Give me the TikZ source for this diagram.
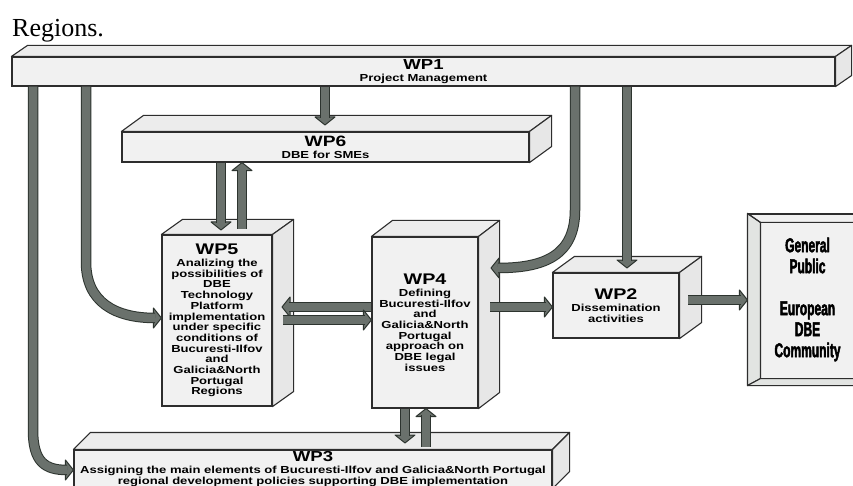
\documentclass[tikz,border=0pt]{standalone}
\usepackage{fontspec}
\setmainfont{Liberation Serif}
\newfontfamily\bsans{Liberation Sans Bold}[FakeStretch=1.28]
\newfontfamily\gpfont{Liberation Sans Bold}[FakeStretch=0.6, FakeBold=2.2]
\usetikzlibrary{calc}
\definecolor{edgec}{RGB}{45,45,45}
\definecolor{facec}{RGB}{241,241,241}
\definecolor{topc}{RGB}{236,236,236}
\definecolor{sidec}{RGB}{231,231,231}
\definecolor{bevc}{RGB}{226,228,226}
\definecolor{arrf}{RGB}{106,113,108}
\definecolor{arre}{RGB}{45,52,47}
\tikzset{
  wpbox/.style={draw=edgec, fill=facec, line width=1.1pt, inner sep=0pt, align=center,
    font=\bsans\fontsize{10.2}{10.7}\selectfont, text=black},
  face/.style={draw=edgec, line width=1.1pt, line join=round},
  shaft/.style={draw=arre, double=arrf, double distance=8.5pt, line width=1pt},
  headst/.style={fill=arrf, draw=arre, line width=1pt, line join=round},
  headD/.pic={\path[headst] (-10,-8) -- (10,-8) -- (0,0) -- cycle;},
  headU/.pic={\path[headst] (-10,8) -- (10,8) -- (0,0) -- cycle;},
  headR/.pic={\path[headst] (-8,-10) -- (-8,10) -- (0,0) -- cycle;},
  headL/.pic={\path[headst] (8,-10) -- (8,10) -- (0,0) -- cycle;}
}
\newcommand\wpdepth[3]{%
  \path[face, fill=topc] (#1.north west) -- ++(#2,#3) -- ($(#1.north east)+(#2,#3)$) -- (#1.north east) -- cycle;
  \path[face, fill=sidec] (#1.north east) -- ++(#2,#3) -- ($(#1.south east)+(#2,#3)$) -- (#1.south east) -- cycle;
}
\newcommand\hd[2]{{\fontsize{#1}{#1}\selectfont #2}}
\begin{document}
\begin{tikzpicture}[x=1pt,y=-1pt]
\useasboundingbox (0,0) rectangle (853,486);
\clip (0,0) rectangle (853,486);
\fill[white] (0,0) rectangle (853,486);

\node[anchor=base west, inner sep=0pt, font=\fontsize{26}{26}\selectfont] (reg) at (12,37) {Regions.};

% boxes
\node[wpbox, minimum width=823pt, minimum height=29pt] (wp1) at (423.5,71.5)
  {\hd{14.5}{WP1}\\[0.5pt]Project Management};
\wpdepth{wp1}{16}{-11}

\node[wpbox, minimum width=407pt, minimum height=30pt] (wp6) at (325.5,147)
  {\hd{15}{WP6}\\[1pt]DBE for SMEs};
\wpdepth{wp6}{22}{-16}

\node[wpbox, minimum width=110pt, minimum height=171pt] (wp5) at (217,320.5)
  {\hd{15.4}{WP5}\\[1.3pt]Analizing the\\possibilities of\\DBE\\Technology\\Platform\\implementation\\under specific\\conditions of\\Bucuresti-Ilfov\\and\\Galicia\&North\\Portugal\\Regions};
\wpdepth{wp5}{21}{-15}

\node[wpbox, minimum width=106pt, minimum height=171pt] (wp4) at (425,322.5)
  {\hd{15.4}{WP4}\\[1.3pt]Defining\\Bucuresti-Ilfov\\and\\Galicia\&North\\Portugal\\approach on\\DBE legal\\issues};
\wpdepth{wp4}{21}{-16}

\node[wpbox, minimum width=126pt, minimum height=65pt] (wp2) at (616,305.5)
  {\hd{15.4}{WP2}\\[1.3pt]Dissemination\\activities};
\wpdepth{wp2}{22}{-16}

\node[wpbox, minimum width=478pt, minimum height=38pt] (wp3) at (313,469)
  {\hd{14.5}{WP3}\\[1.5pt]Assigning the main elements of Bucuresti-Ilfov and Galicia\&North Portugal\\regional development policies supporting DBE implementation};
\wpdepth{wp3}{17}{-17}

\node[draw=edgec, fill=facec, line width=1.1pt, minimum width=119pt, minimum height=171pt,
  inner sep=0pt, align=center, font=\gpfont\fontsize{20}{21}\selectfont] (gp) at (807.5,299.5)
  {General\\Public\\[21pt]European\\DBE\\Community};
\path[face, fill=bevc] (gp.north west) -- ($(gp.north west)+(13,9)$) -- ($(gp.south west)+(13,-7)$) -- (gp.south west) -- cycle;
\path[face, fill=bevc] (gp.south west) -- ($(gp.south west)+(13,-7)$) -- ($(gp.south east)+(-13,-7)$) -- (gp.south east) -- cycle;
\path[face] (gp.north west) -- ($(gp.north west)+(13,9)$) -- ($(gp.north east)+(-13,9)$) -- (gp.north east);
\path[face] ($(gp.north east)+(-13,9)$) -- ($(gp.south east)+(-13,-7)$);

% arrows
% WP1 -> WP6
\pic at (325,125) {headD};
\draw[shaft] (wp1.south -| 325,0) -- (325,118);
% WP6 -> WP5
\pic at (221,230) {headD};
\draw[shaft] (wp6.south -| 221,0) -- (221,223);
% WP5 -> WP6
\pic at (wp6.south -| 242,0) {headU};
\draw[shaft] (242,229) -- (242,170);
% WP1 -> WP3
\pic at (wp3.west |- 0,470) {headR};
\draw[shaft] (wp1.south -| 33,0) -- (33,430) .. controls (33,462) and (45,470) .. (67,470);
% WP1 -> WP5
\pic at (wp5.west |- 0,318) {headR};
\draw[shaft] (wp1.south -| 86,0) -- (86,262) .. controls (86,302) and (115,318) .. (155,318);
% WP1 -> WP4
\pic at (491,268) {headL};
\draw[shaft] (wp1.south -| 575,0) -- (575,210) .. controls (575,255) and (545,268) .. (498,268);
% WP1 -> WP2
\pic at (627,268) {headD};
\draw[shaft] (wp1.south -| 627,0) -- (627,261);
% WP4 -> WP5
\pic at (282,307) {headL};
\draw[shaft] (wp4.west |- 0,307) -- (289,307);
% WP5 -> WP4
\pic at (wp4.west |- 0,320) {headR};
\draw[shaft] (283,320) -- (365,320);
% WP4 -> WP2
\pic at (wp2.west |- 0,307) {headR};
\draw[shaft] (490,307) -- (546,307);
% WP2 -> GP
\pic at (gp.west |- 0,300) {headR};
\draw[shaft] (688,300) -- (741,300);
% WP4 -> WP3
\pic at (405,443) {headD};
\draw[shaft] (wp4.south -| 405,0) -- (405,436);
% WP3 -> WP4
\pic at (wp4.south -| 426,0) {headU};
\draw[shaft] (426,447) -- (426,415);
\end{tikzpicture}
\end{document}
